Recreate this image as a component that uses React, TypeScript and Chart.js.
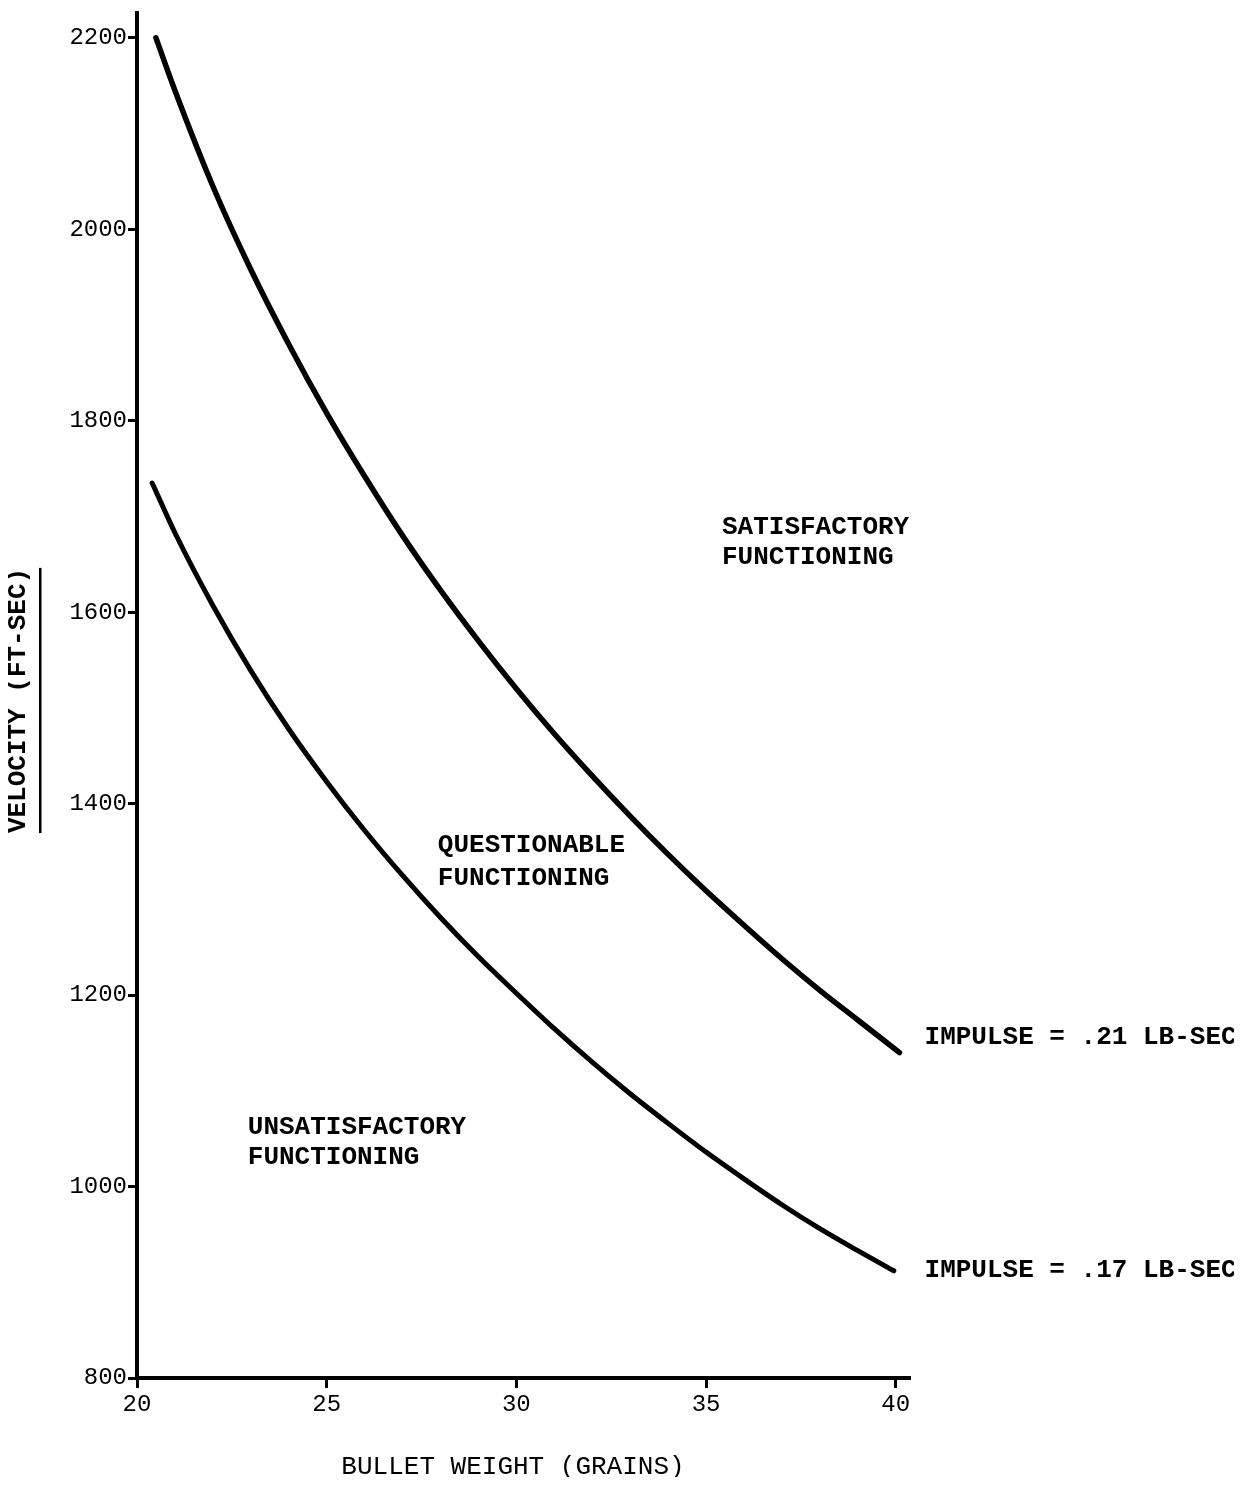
import React, { useEffect, useRef } from "react";
import { Chart, registerables } from "chart.js";

Chart.register(...registerables);

// Bullet weight (grains) and velocity (ft/sec)
const weight21 = [20.5, 21, 22, 23, 24, 25, 26, 27, 28, 29, 30, 31, 32, 33, 34, 35, 36, 37, 38, 39, 40.1];
const velocity21 = [2200, 2145, 2045, 1958, 1880, 1808, 1742, 1680, 1623, 1570, 1520, 1473, 1429, 1387, 1347, 1309, 1273, 1238, 1205, 1174, 1140];

const weight17 = [20.4, 21, 22, 23, 24, 25, 26, 27, 28, 29, 30, 31, 32, 33, 34, 35, 36, 37, 38, 39, 39.95];
const velocity17 = [1735, 1683, 1607, 1539, 1478, 1423, 1372, 1325, 1281, 1240, 1202, 1165, 1130, 1097, 1066, 1036, 1008, 981, 956, 933, 912];

const xTicks = [20, 25, 30, 35, 40];
const yTicks = [800, 1000, 1200, 1400, 1600, 1800, 2000, 2200];

const xTitle = "BULLET WEIGHT (GRAINS)";
const yTitle = "VELOCITY (FT-SEC)";

// Text placed in data space (bullet weight, velocity)
const labelTexts = [
  "SATISFACTORY", "FUNCTIONING",
  "QUESTIONABLE", "FUNCTIONING",
  "UNSATISFACTORY", "FUNCTIONING",
  "IMPULSE = .21 LB-SEC",
  "IMPULSE = .17 LB-SEC",
];
const labelX = [35.42, 35.42, 27.93, 27.93, 22.92, 22.92, 40.76, 40.76];
const labelY = [1689, 1657, 1356, 1322, 1062, 1030, 1156, 912];

const FONT = '"Liberation Mono", "DejaVu Sans Mono", monospace';

const textPlugin = {
  id: "textPlugin",
  afterDraw(chart: any) {
    const ctx = chart.ctx as CanvasRenderingContext2D;
    const xs = chart.scales.x;
    const ys = chart.scales.y;
    const area = chart.chartArea;
    ctx.save();
    ctx.fillStyle = "#000";
    ctx.font = `bold 26px ${FONT}`;
    ctx.textAlign = "left";
    ctx.textBaseline = "middle";
    labelTexts.forEach((t, i) => {
      ctx.fillText(t, xs.getPixelForValue(labelX[i]), ys.getPixelForValue(labelY[i]));
    });

    // x axis title
    ctx.textAlign = "center";
    ctx.font = `26px ${FONT}`;
    ctx.fillText(xTitle, (area.left + area.right) / 2 - 10, area.bottom + 89);

    // y axis title, underlined
    ctx.font = `bold 26px ${FONT}`;
    const w = ctx.measureText(yTitle).width;
    ctx.translate(area.left - 119, (area.top + area.bottom) / 2 + 5);
    ctx.rotate(-Math.PI / 2);
    ctx.fillText(yTitle, 0, 0);
    ctx.fillRect(-w / 2, 21, w, 2.5);
    ctx.restore();
  },
};

export default function App() {
  const ref = useRef<HTMLCanvasElement>(null);

  useEffect(() => {
    if (!ref.current) return;
    const chart = new Chart(ref.current, {
      type: "line",
      data: {
        datasets: [
          {
            label: "Impulse .21 lb-sec",
            data: weight21.map((x, i) => ({ x, y: velocity21[i] })),
            borderColor: "#000",
            borderWidth: 5.5,
            pointRadius: 0,
            cubicInterpolationMode: "monotone",
            borderCapStyle: "round",
          },
          {
            label: "Impulse .17 lb-sec",
            data: weight17.map((x, i) => ({ x, y: velocity17[i] })),
            borderColor: "#000",
            borderWidth: 5,
            pointRadius: 0,
            cubicInterpolationMode: "monotone",
            borderCapStyle: "round",
          },
        ],
      },
      options: {
        responsive: false,
        animation: false,
        layout: { padding: { top: 13, right: 333, left: 0, bottom: 0 } },
        plugins: {
          legend: { display: false },
          tooltip: { enabled: false },
          title: { display: false },
        },
        scales: {
          x: {
            type: "linear",
            min: 20,
            max: 40.35,
            afterBuildTicks: (axis: any) => {
              axis.ticks = xTicks.map((v) => ({ value: v }));
            },
            afterFit: (axis: any) => {
              axis.height = 107;
              axis.paddingLeft = 0;
              axis.paddingRight = 0;
            },
            border: { display: true, color: "#000", width: 4 },
            grid: {
              display: true,
              drawOnChartArea: false,
              drawTicks: true,
              tickLength: 10,
              color: "#000",
              lineWidth: 3,
            },
            ticks: {
              color: "#000",
              padding: 2,
              maxRotation: 0,
              autoSkip: false,
              callback: (v: any) => String(v),
              font: { family: FONT, size: 24 },
            },
          },
          y: {
            type: "linear",
            min: 800,
            max: 2226,
            afterBuildTicks: (axis: any) => {
              axis.ticks = yTicks.map((v) => ({ value: v }));
            },
            afterFit: (axis: any) => {
              axis.width = 137;
              axis.paddingTop = 0;
              axis.paddingBottom = 0;
            },
            border: { display: true, color: "#000", width: 4 },
            grid: {
              display: true,
              drawOnChartArea: false,
              drawTicks: true,
              tickLength: 9,
              color: "#000",
              lineWidth: 3,
            },
            ticks: {
              color: "#000",
              padding: 1,
              autoSkip: false,
              callback: (v: any) => String(v),
              font: { family: FONT, size: 24 },
            },
          },
        },
      },
      plugins: [textPlugin],
    });
    return () => chart.destroy();
  }, []);

  return (
    <div style={{ margin: -8, width: 1242, height: 1485 }}>
      <canvas ref={ref} width={1242} height={1485} style={{ display: "block" }} />
    </div>
  );
}
